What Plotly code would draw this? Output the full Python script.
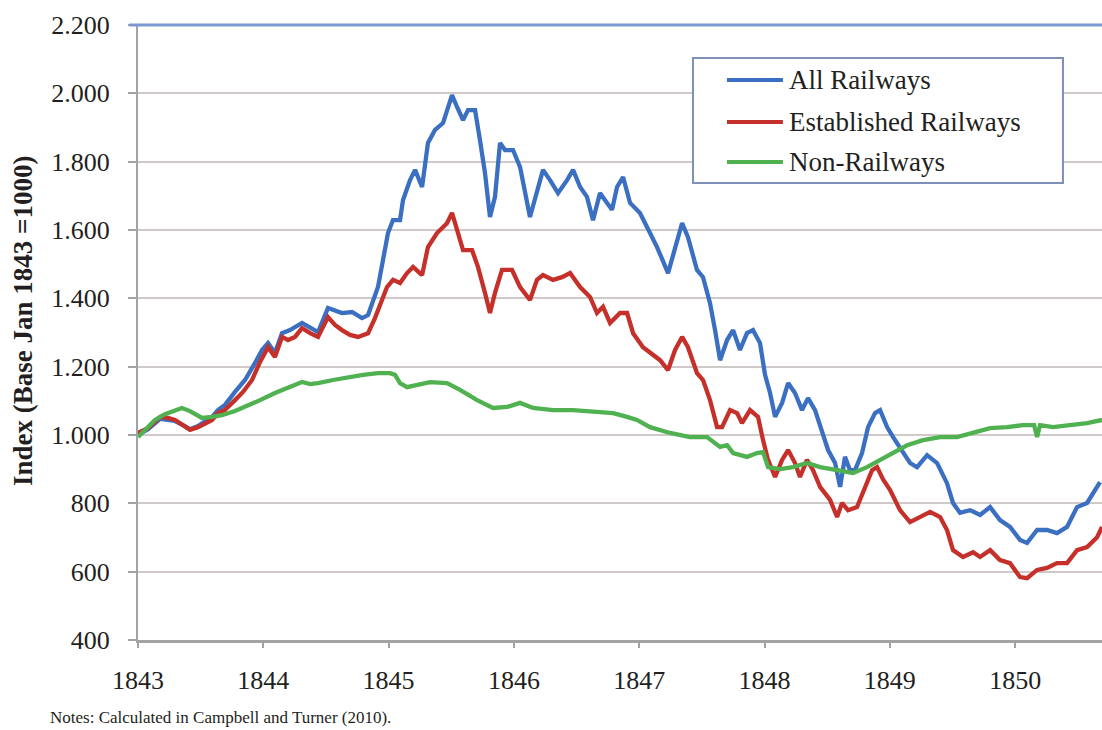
import plotly.graph_objects as go

# ---------------- data ----------------
all_t = [1843.000,1843.080,1843.176,1843.239,1843.295,1843.359,1843.415,1843.479,1843.535,1843.591,
         1843.638,1843.694,1843.774,1843.854,1843.934,1843.990,1844.038,1844.093,1844.149,1844.213,
         1844.309,1844.373,1844.437,1844.516,1844.572,1844.628,1844.708,1844.788,1844.836,1844.915,
         1844.955,1844.995,1845.035,1845.091,1845.115,1845.171,1845.211,1845.267,1845.314,1845.370,
         1845.434,1845.474,1845.506,1845.546,1845.594,1845.634,1845.690,1845.729,1845.769,1845.809,
         1845.849,1845.889,1845.929,1845.993,1846.049,1846.128,1846.184,1846.232,1846.288,1846.352,
         1846.424,1846.472,1846.528,1846.583,1846.631,1846.687,1846.743,1846.783,1846.823,1846.871,
         1846.927,1847.006,1847.062,1847.142,1847.230,1847.286,1847.342,1847.389,1847.461,1847.509,
         1847.565,1847.605,1847.645,1847.701,1847.749,1847.804,1847.860,1847.908,1847.964,1848.004,
         1848.044,1848.084,1848.140,1848.188,1848.243,1848.299,1848.347,1848.403,1848.459,1848.507,
         1848.563,1848.603,1848.642,1848.682,1848.722,1848.778,1848.826,1848.882,1848.922,1848.978,
         1849.026,1849.105,1849.161,1849.217,1849.297,1849.377,1849.456,1849.504,1849.560,1849.640,
         1849.720,1849.800,1849.879,1849.959,1850.039,1850.095,1850.175,1850.254,1850.334,1850.414,
         1850.494,1850.574,1850.622,1850.677]
all_v = [1000,1017,1047,1044,1041,1029,1017,1026,1041,1053,
         1073,1088,1126,1161,1211,1249,1269,1240,1298,1307,
         1328,1313,1301,1372,1366,1357,1360,1342,1351,1433,
         1512,1591,1629,1629,1688,1746,1776,1726,1855,1893,
         1913,1960,1995,1960,1922,1951,1951,1863,1767,1638,
         1697,1855,1834,1834,1784,1638,1717,1776,1746,1708,
         1746,1776,1726,1697,1629,1708,1679,1659,1726,1755,
         1679,1650,1609,1550,1474,1550,1620,1579,1483,1462,
         1386,1307,1219,1278,1307,1249,1298,1307,1269,1176,
         1123,1053,1094,1152,1123,1073,1108,1073,1015,956,
         918,848,936,897,897,947,1023,1064,1073,1023,
         994,947,918,906,941,918,859,801,772,780,
         766,789,751,731,693,684,722,722,713,731,
         789,801,830,862]

est_t = [1843.000,1843.080,1843.176,1843.239,1843.295,1843.359,1843.415,1843.479,1843.535,1843.591,
         1843.638,1843.694,1843.774,1843.838,1843.910,1843.974,1844.038,1844.093,1844.149,1844.197,
         1844.253,1844.309,1844.373,1844.437,1844.516,1844.572,1844.628,1844.692,1844.756,1844.836,
         1844.891,1844.947,1844.987,1845.035,1845.091,1845.147,1845.195,1845.267,1845.314,1845.386,
         1845.466,1845.506,1845.554,1845.594,1845.666,1845.713,1845.769,1845.809,1845.849,1845.905,
         1845.985,1846.049,1846.128,1846.184,1846.232,1846.312,1846.384,1846.448,1846.528,1846.607,
         1846.663,1846.711,1846.767,1846.847,1846.903,1846.951,1847.030,1847.086,1847.166,1847.230,
         1847.286,1847.342,1847.389,1847.461,1847.509,1847.565,1847.621,1847.661,1847.725,1847.781,
         1847.820,1847.884,1847.948,1847.988,1848.028,1848.084,1848.140,1848.188,1848.243,1848.283,
         1848.339,1848.387,1848.443,1848.523,1848.579,1848.618,1848.666,1848.738,1848.802,1848.858,
         1848.898,1848.946,1849.002,1849.081,1849.161,1849.241,1849.321,1849.401,1849.456,1849.504,
         1849.584,1849.664,1849.720,1849.800,1849.879,1849.959,1850.039,1850.095,1850.175,1850.254,
         1850.334,1850.414,1850.494,1850.574,1850.654,1850.693]
est_v = [1006,1020,1053,1050,1044,1029,1015,1023,1035,1044,
         1064,1073,1102,1126,1161,1214,1257,1228,1287,1278,
         1287,1313,1298,1287,1345,1322,1307,1293,1287,1298,
         1342,1395,1433,1454,1445,1474,1492,1468,1550,1591,
         1620,1650,1591,1541,1541,1492,1416,1357,1416,1483,
         1483,1433,1395,1454,1468,1454,1462,1474,1433,1404,
         1357,1375,1328,1357,1357,1298,1257,1240,1219,1190,
         1249,1287,1257,1181,1161,1102,1023,1023,1073,1064,
         1035,1073,1053,985,927,877,927,956,918,877,
         927,897,848,810,760,801,780,789,848,897,
         906,870,839,780,745,760,775,760,722,663,
         643,657,643,663,634,625,584,581,605,611,
         625,625,663,672,701,731]

non_t = [1843.000,1843.056,1843.136,1843.215,1843.295,1843.351,1843.415,1843.511,1843.591,1843.670,
         1843.774,1843.854,1843.974,1844.093,1844.213,1844.309,1844.373,1844.437,1844.556,1844.676,
         1844.796,1844.915,1845.011,1845.051,1845.091,1845.147,1845.227,1845.330,1845.466,1845.570,
         1845.706,1845.833,1845.945,1846.049,1846.152,1846.312,1846.472,1846.631,1846.791,1846.903,
         1846.982,1847.086,1847.246,1847.405,1847.541,1847.645,1847.701,1847.749,1847.860,1847.940,
         1847.988,1848.028,1848.124,1848.227,1848.339,1848.443,1848.579,1848.706,1848.818,1848.922,
         1849.026,1849.137,1849.265,1849.401,1849.536,1849.664,1849.800,1849.935,1850.063,1850.151,
         1850.175,1850.199,1850.302,1850.438,1850.574,1850.693]
non_v = [994,1015,1044,1061,1073,1079,1070,1050,1053,1058,
         1070,1082,1102,1123,1140,1155,1149,1152,1161,1170,
         1176,1181,1181,1176,1152,1140,1146,1155,1152,1132,
         1102,1079,1082,1094,1079,1073,1073,1067,1064,1053,
         1044,1023,1006,994,994,965,970,947,936,947,
         950,906,900,906,918,906,897,889,906,927,
         950,970,985,994,994,1006,1020,1023,1029,1029,
         994,1029,1023,1029,1035,1044]

series_names = ["All Railways", "Established Railways", "Non-Railways"]
year_ticks = [1843, 1844, 1845, 1846, 1847, 1848, 1849, 1850]
year_labels = ["1843", "1844", "1845", "1846", "1847", "1848", "1849", "1850"]
y_ticks = [400, 600, 800, 1000, 1200, 1400, 1600, 1800, 2000, 2200]
y_title = "Index (Base Jan 1843 =1000)"
note_text = "Notes: Calculated in Campbell and Turner (2010)."

# ---------------- styling ----------------
BLUE = "#3b6fc2"
RED = "#c5302a"
GREEN = "#4fb150"
colors = [BLUE, RED, GREEN]
SERIF = "Liberation Serif, Times New Roman, serif"
TXT = "#231f20"
AX = "#a3a3a3"

fig = go.Figure()
for (t, v), name, col in zip([(all_t, all_v), (est_t, est_v), (non_t, non_v)], series_names, colors):
    fig.add_trace(go.Scatter(x=t, y=v, mode="lines", name=name,
                             line=dict(color=col, width=4.3), showlegend=False))

fig.update_layout(
    width=1102, height=730,
    margin=dict(l=138, r=0, t=25, b=90),
    paper_bgcolor="white", plot_bgcolor="white",
    separators=",.",
    showlegend=False,
    font=dict(family=SERIF, color=TXT),
    xaxis=dict(range=[1843, 1850.693], tickmode="array", tickvals=year_ticks, ticktext=year_labels,
               ticks="outside", ticklen=5, tickwidth=2, tickcolor=AX,
               showline=True, linecolor=AX, linewidth=3, showgrid=False, zeroline=False,
               ticklabelstandoff=10,
               tickfont=dict(size=26, family=SERIF, color=TXT)),
    yaxis=dict(range=[400, 2200], tickmode="array", tickvals=y_ticks, tickformat=",d",
               ticks="outside", ticklen=8, tickwidth=2, tickcolor=AX,
               showline=True, linecolor=AX, linewidth=2, showgrid=True,
               gridcolor="#d0c9c9", gridwidth=1.5, zeroline=False,
               ticklabelstandoff=13,
               tickfont=dict(size=26, family=SERIF, color=TXT)),
)

# blue frame line along the top of the plot
fig.add_shape(type="line", xref="paper", yref="paper", x0=-0.009, x1=1, y0=1, y1=1,
              line=dict(color="#7b98d0", width=3), layer="above")

# legend box (drawn manually to match the reference layout)
fig.add_shape(type="rect", xref="paper", yref="paper", x0=0.5757, x1=0.9595, y0=0.7431, y1=0.9463,
              line=dict(color="#7e90b8", width=2), fillcolor="white", layer="above")
rows_y = [0.9106, 0.8423, 0.7772]
for name, col, yy in zip(series_names, colors, rows_y):
    fig.add_shape(type="line", xref="paper", yref="paper", x0=0.611, x1=0.669, y0=yy, y1=yy,
                  line=dict(color=col, width=4), layer="above")
    fig.add_annotation(xref="paper", yref="paper", x=0.6733, y=yy, text=name, showarrow=False,
                       xanchor="left", yanchor="middle",
                       font=dict(size=27, family=SERIF, color=TXT))

# y-axis title
fig.add_annotation(xref="paper", yref="paper", x=-0.1193, y=0.5187, text="<b>" + y_title + "</b>",
                   textangle=-90, showarrow=False, xanchor="center", yanchor="middle",
                   font=dict(size=27, family=SERIF, color=TXT))

# notes
fig.add_annotation(xref="paper", yref="paper", x=-0.0934, y=-0.1268, text=note_text,
                   showarrow=False, xanchor="left", yanchor="middle",
                   font=dict(size=17, family=SERIF, color=TXT))

fig.write_html("out.html", config={"displayModeBar": False},
               post_script="document.body.style.margin='0';document.body.style.overflow='hidden';")
